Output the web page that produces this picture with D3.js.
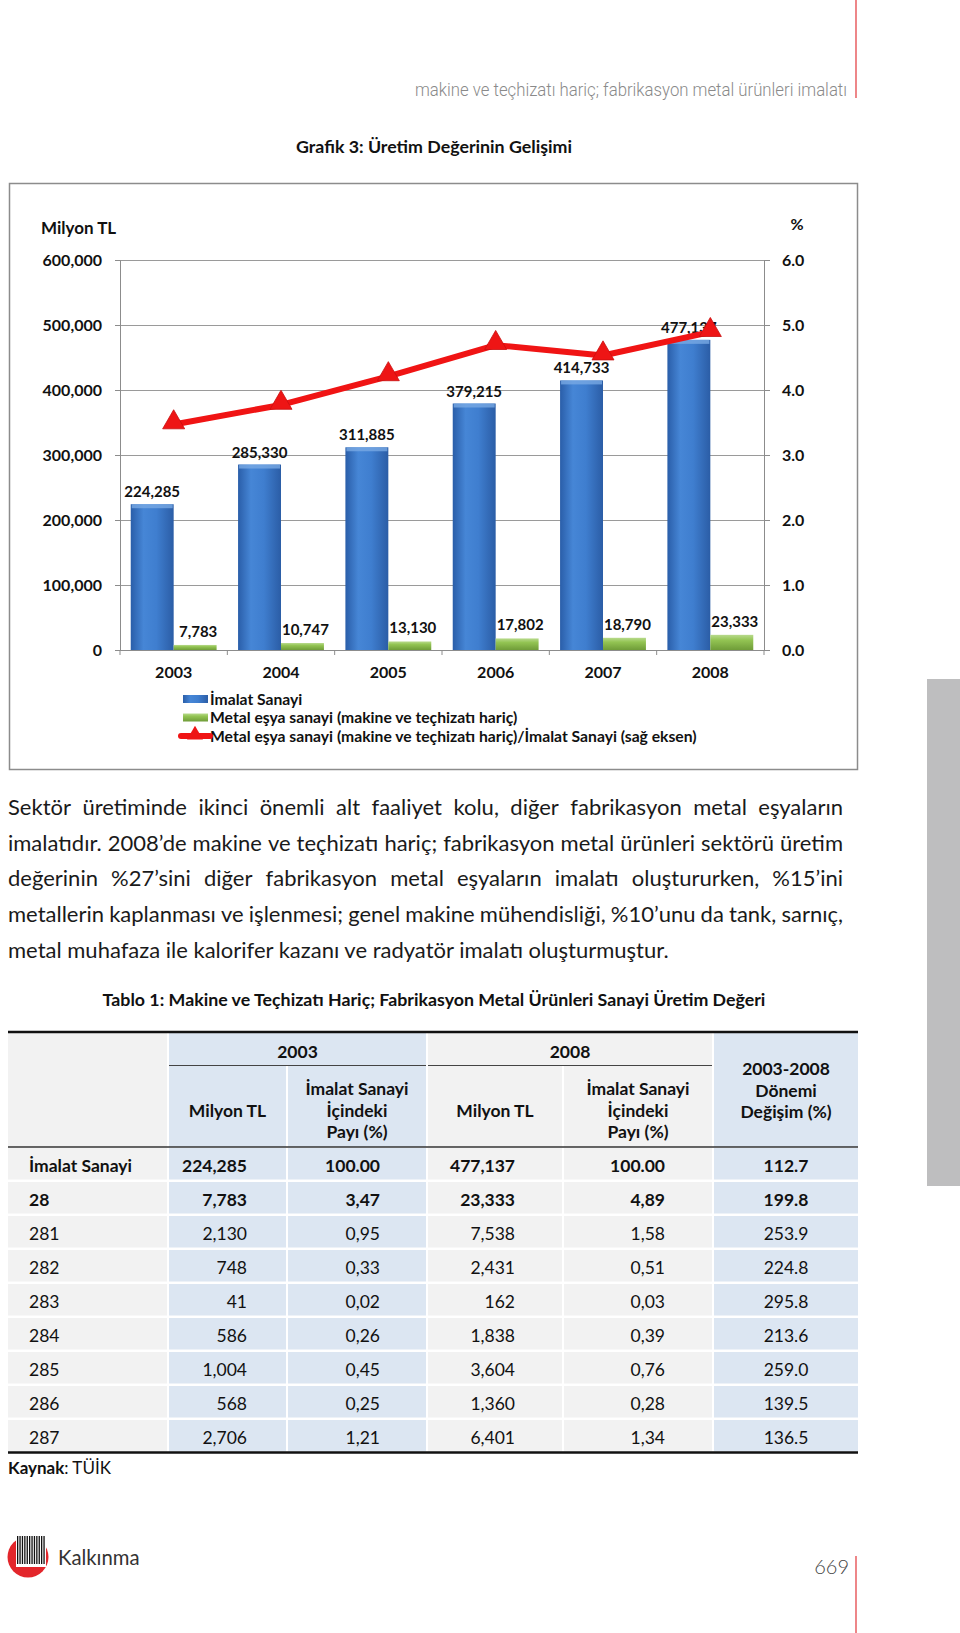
<!DOCTYPE html>
<html>
<head>
<meta charset="utf-8">
<script src="https://cdn.jsdelivr.net/npm/d3@7"></script>
<style>
  body { margin: 0; background: #fff; }
  svg { display: block; }
  text { font-family: Lato, "Open Sans", sans-serif; fill: #111; }
</style>
</head>
<body>
<svg id="page" width="960" height="1633"></svg>
<script>
// chart data
const years = ["2003", "2004", "2005", "2006", "2007", "2008"];
const imalat = [224285, 285330, 311885, 379215, 414733, 477137];
const metal = [7783, 10747, 13130, 17802, 18790, 23333];
const share = [3.47, 3.77, 4.21, 4.69, 4.53, 4.89];
const leftTicks = [0, 100000, 200000, 300000, 400000, 500000, 600000];
const rightTicks = [0, 1, 2, 3, 4, 5, 6];
const seriesNames = [
    "İmalat Sanayi",
    "Metal eşya sanayi (makine ve teçhizatı hariç)",
    "Metal eşya sanayi (makine ve teçhizatı hariç)/İmalat Sanayi (sağ eksen)"
];

// table data
const rowNames = ["İmalat Sanayi", "28", "281", "282", "283", "284", "285", "286", "287"];
const mil2003 = [224285, 7783, 2130, 748, 41, 586, 1004, 568, 2706];
const pay2003 = ["100.00", "3,47", "0,95", "0,33", "0,02", "0,26", "0,45", "0,25", "1,21"];
const mil2008 = [477137, 23333, 7538, 2431, 162, 1838, 3604, 1360, 6401];
const pay2008 = ["100.00", "4,89", "1,58", "0,51", "0,03", "0,39", "0,76", "0,28", "1,34"];
const change = ["112.7", "199.8", "253.9", "224.8", "295.8", "213.6", "259.0", "139.5", "136.5"];

const bodyLines = [
    "Sektör üretiminde ikinci önemli alt faaliyet kolu, diğer fabrikasyon metal eşyaların",
    "imalatıdır. 2008’de makine ve teçhizatı hariç; fabrikasyon metal ürünleri sektörü üretim",
    "değerinin %27’sini diğer fabrikasyon metal eşyaların imalatı oluştururken, %15’ini",
    "metallerin kaplanması ve işlenmesi; genel makine mühendisliği, %10’unu da tank, sarnıç,",
    "metal muhafaza ile kalorifer kazanı ve radyatör imalatı oluşturmuştur."
];

const svg = d3.select("#page");
const defs = svg.append("defs");

// ---- page decorations
svg.append("line").attr("x1", 856).attr("x2", 856).attr("y1", 0).attr("y2", 98)
    .attr("stroke", "#e2363a").attr("stroke-width", 1.2);
svg.append("text")
    .attr("x", 847).attr("y", 96)
    .attr("text-anchor", "end")
    .attr("textLength", 432).attr("lengthAdjust", "spacingAndGlyphs")
    .style("font-family", "Roboto, sans-serif").style("font-weight", 300)
    .style("font-size", "18px").style("fill", "#8a8a8a")
    .text("makine ve teçhizatı hariç; fabrikasyon metal ürünleri imalatı");

svg.append("text")
    .attr("x", 434).attr("y", 153)
    .attr("text-anchor", "middle")
    .style("font-weight", 700).style("font-size", "17.8px")
    .text("Grafik 3: Üretim Değerinin Gelişimi");

svg.append("rect").attr("x", 927).attr("y", 679).attr("width", 33).attr("height", 507)
    .attr("fill", "#bebebf");

// ---- chart
svg.append("rect").attr("x", 9.5).attr("y", 183.5).attr("width", 848).attr("height", 586)
    .attr("fill", "#fff").attr("stroke", "#8c8c8c").attr("stroke-width", 1.5);

const plot = {left: 120, right: 764, top: 260, bottom: 650};

const x = d3.scaleBand().domain(years).range([plot.left, plot.right])
    .paddingInner(0.2).paddingOuter(0.1);
const xs = d3.scaleBand().domain(["imalat", "metal"]).range([0, x.bandwidth()]);
const yL = d3.scaleLinear().domain([0, 600000]).range([plot.bottom, plot.top]);
const yR = d3.scaleLinear().domain([0, 6]).range([plot.bottom, plot.top]);

const blueGrad = defs.append("linearGradient").attr("id", "blueGrad")
    .attr("x1", 0).attr("x2", 1).attr("y1", 0).attr("y2", 0);
blueGrad.selectAll("stop")
    .data([[0, "#2a5ea9"], [0.3, "#4686d6"], [0.6, "#3f7ecf"], [1, "#2b5da6"]])
    .join("stop").attr("offset", d => d[0]).attr("stop-color", d => d[1]);

const greenGrad = defs.append("linearGradient").attr("id", "greenGrad")
    .attr("x1", 0).attr("x2", 0).attr("y1", 0).attr("y2", 1);
greenGrad.selectAll("stop")
    .data([[0, "#b8da8c"], [0.35, "#93c453"], [1, "#6f9c38"]])
    .join("stop").attr("offset", d => d[0]).attr("stop-color", d => d[1]);

// grid
svg.append("g")
    .attr("transform", `translate(${plot.left},0)`)
    .call(d3.axisLeft(yL).tickValues(leftTicks).tickSize(-(plot.right - plot.left)).tickFormat(""))
    .call(g => g.select(".domain").remove())
    .call(g => g.selectAll("line").attr("stroke", "#9a9a9a"));

const styleTicks = g => g.selectAll("text").style("font-family", "Lato, sans-serif")
    .style("font-weight", 700).style("font-size", "16px").attr("fill", "#111");

// left axis
svg.append("g")
    .attr("transform", `translate(${plot.left},0)`)
    .call(d3.axisLeft(yL).tickValues(leftTicks).tickSize(5).tickPadding(13).tickFormat(d3.format(",")))
    .call(g => g.select(".domain").attr("stroke", "#8c8c8c"))
    .call(g => g.selectAll("line").attr("stroke", "#8c8c8c"))
    .call(styleTicks);

// right axis
svg.append("g")
    .attr("transform", `translate(${plot.right},0)`)
    .call(d3.axisRight(yR).tickValues(rightTicks).tickSize(6).tickPadding(12).tickFormat(d3.format(".1f")))
    .call(g => g.select(".domain").attr("stroke", "#8c8c8c"))
    .call(g => g.selectAll("line").attr("stroke", "#8c8c8c"))
    .call(styleTicks);

// bottom axis
svg.append("g")
    .attr("transform", `translate(0,${plot.bottom})`)
    .call(d3.axisBottom(x).tickSize(0).tickPadding(17))
    .call(g => g.select(".domain").attr("stroke", "#8c8c8c"))
    .call(styleTicks);

const bounds = years.map(d => x(d) - x.step() * x.paddingInner() / 2)
    .concat([x(years[years.length - 1]) + x.bandwidth() + x.step() * x.paddingInner() / 2]);
svg.append("g").selectAll("line").data(bounds).join("line")
    .attr("x1", d => d).attr("x2", d => d)
    .attr("y1", plot.bottom).attr("y2", plot.bottom + 5)
    .attr("stroke", "#8c8c8c");

// axis titles
svg.append("text").attr("x", 41).attr("y", 234)
    .style("font-weight", 700).style("font-size", "17px").text("Milyon TL");
svg.append("text").attr("x", 797).attr("y", 230).attr("text-anchor", "middle")
    .style("font-weight", 700).style("font-size", "16px").text("%");

// bars
const bars = svg.append("g");
bars.selectAll(".imalat").data(imalat).join("rect")
    .attr("class", "imalat")
    .attr("x", (d, i) => x(years[i]) + xs("imalat"))
    .attr("y", d => yL(d))
    .attr("width", xs.bandwidth())
    .attr("height", d => yL(0) - yL(d))
    .attr("fill", "url(#blueGrad)");
bars.selectAll(".imalatTop").data(imalat).join("rect")
    .attr("class", "imalatTop")
    .attr("x", (d, i) => x(years[i]) + xs("imalat") + 1)
    .attr("y", d => yL(d))
    .attr("width", xs.bandwidth() - 2)
    .attr("height", 4)
    .attr("fill", "#78a9e4").attr("opacity", 0.8);

bars.selectAll(".metal").data(metal).join("rect")
    .attr("class", "metal")
    .attr("x", (d, i) => x(years[i]) + xs("metal"))
    .attr("y", d => yL(d))
    .attr("width", xs.bandwidth())
    .attr("height", d => yL(0) - yL(d))
    .attr("fill", "url(#greenGrad)");

// bar labels
const labelFmt = d3.format(",");
svg.append("g").selectAll("text").data(imalat).join("text")
    .attr("x", (d, i) => x(years[i]) + xs("imalat") + xs.bandwidth() / 2)
    .attr("y", d => yL(d) - 7)
    .attr("text-anchor", "middle")
    .style("font-weight", 700).style("font-size", "15px")
    .text(d => labelFmt(d));
svg.append("g").selectAll("text").data(metal).join("text")
    .attr("x", (d, i) => x(years[i]) + xs("metal") + xs.bandwidth() / 2 + 3)
    .attr("y", d => yL(d) - 8)
    .attr("text-anchor", "middle")
    .style("font-weight", 700).style("font-size", "15px")
    .text(d => labelFmt(d));

// share line
const lineX = (d, i) => x(years[i]) + x.bandwidth() / 2;
const line = d3.line().x(lineX).y(d => yR(d));
svg.append("path").datum(share)
    .attr("d", line)
    .attr("fill", "none").attr("stroke", "#f01414").attr("stroke-width", 6)
    .attr("stroke-linejoin", "round");
const tri = d3.symbol().type(d3.symbolTriangle).size(210);
svg.append("g").selectAll("path").data(share).join("path")
    .attr("transform", (d, i) => `translate(${lineX(d, i)},${yR(d) - 2})`)
    .attr("d", tri)
    .attr("fill", "#ee1515").attr("stroke", "#c80f0f").attr("stroke-width", 0.8);

// legend
const legend = svg.append("g").attr("transform", "translate(183,699)");
const legRows = legend.selectAll("g").data(seriesNames).join("g")
    .attr("transform", (d, i) => `translate(0,${i * 18.5})`);
legRows.append("text")
    .attr("x", 27).attr("y", 5.5)
    .style("font-weight", 700).style("font-size", "15.7px")
    .text(d => d);
legRows.filter((d, i) => i === 0).append("rect")
    .attr("x", 0).attr("y", -4).attr("width", 25).attr("height", 8).attr("fill", "url(#blueGrad)");
legRows.filter((d, i) => i === 1).append("rect")
    .attr("x", 0).attr("y", -4).attr("width", 25).attr("height", 8).attr("fill", "url(#greenGrad)");
const leg3 = legRows.filter((d, i) => i === 2);
leg3.append("line").attr("x1", -2).attr("x2", 27).attr("y1", 0).attr("y2", 0)
    .attr("stroke", "#f01414").attr("stroke-width", 6).attr("stroke-linecap", "round");
leg3.append("path").attr("transform", "translate(12,-1)")
    .attr("d", d3.symbol().type(d3.symbolTriangle).size(110)).attr("fill", "#ee1515");

// ---- body paragraph (justified)
const bodyLeft = 8, bodyRight = 843;
const body = svg.append("g");
const measure = svg.append("text").style("font-size", "22px").attr("visibility", "hidden");
const wordWidth = w => {
    measure.text(w);
    return measure.node().getComputedTextLength();
};
bodyLines.forEach((ln, li) => {
    const yy = 815 + li * 35.7;
    const words = ln.split(" ");
    const t = body.append("text").attr("y", yy)
        .style("font-size", "22px").style("fill", "#1a1a1a");
    if (li === bodyLines.length - 1) {
        t.attr("x", bodyLeft).text(ln);
        return;
    }
    const widths = words.map(wordWidth);
    const total = d3.sum(widths);
    const gap = (bodyRight - bodyLeft - total) / (words.length - 1);
    if (gap < 3) {
        t.attr("x", bodyLeft).attr("textLength", bodyRight - bodyLeft)
            .attr("lengthAdjust", "spacingAndGlyphs").text(ln);
        return;
    }
    let cx = bodyLeft;
    words.forEach((w, k) => {
        t.append("tspan").attr("x", cx).text(w);
        cx += widths[k] + gap;
    });
});
measure.remove();

// ---- table
svg.append("text").attr("x", 434).attr("y", 1006).attr("text-anchor", "middle")
    .style("font-weight", 700).style("font-size", "17.8px")
    .text("Tablo 1: Makine ve Teçhizatı Hariç; Fabrikasyon Metal Ürünleri Sanayi Üretim Değeri");

const gray = "#f2f2f2", blue = "#dce6f2";
const cols = [
    {x0: 8, x1: 167, fill: gray},
    {x0: 169, x1: 286, fill: blue},
    {x0: 288, x1: 426, fill: blue},
    {x0: 428, x1: 562, fill: gray},
    {x0: 564, x1: 712, fill: gray},
    {x0: 714, x1: 858, fill: blue}
];
const headTop = 1033, headBottom = 1147, rowH = 34;
const table = svg.append("g");

// header backgrounds
table.append("rect").attr("x", cols[0].x0).attr("y", headTop).attr("width", cols[0].x1 - cols[0].x0)
    .attr("height", headBottom - headTop).attr("fill", gray);
table.append("rect").attr("x", cols[1].x0).attr("y", headTop).attr("width", cols[2].x1 - cols[1].x0)
    .attr("height", 32).attr("fill", blue);
table.append("rect").attr("x", cols[3].x0).attr("y", headTop).attr("width", cols[4].x1 - cols[3].x0)
    .attr("height", 32).attr("fill", gray);
[1, 2, 3, 4].forEach(c => {
    table.append("rect").attr("x", cols[c].x0).attr("y", 1066).attr("width", cols[c].x1 - cols[c].x0)
        .attr("height", headBottom - 1066).attr("fill", cols[c].fill);
});
table.append("rect").attr("x", cols[5].x0).attr("y", headTop).attr("width", cols[5].x1 - cols[5].x0)
    .attr("height", headBottom - headTop).attr("fill", blue);

table.append("line").attr("x1", cols[1].x0).attr("x2", cols[2].x1).attr("y1", 1065.5).attr("y2", 1065.5)
    .attr("stroke", "#444").attr("stroke-width", 1);
table.append("line").attr("x1", cols[3].x0).attr("x2", cols[4].x1).attr("y1", 1065.5).attr("y2", 1065.5)
    .attr("stroke", "#444").attr("stroke-width", 1);

const headText = (cx, cy, lines, step) => {
    lines.forEach((s, k) => {
        table.append("text")
            .attr("x", cx).attr("y", cy + (k - (lines.length - 1) / 2) * step + 6.5)
            .attr("text-anchor", "middle")
            .style("font-weight", 700).style("font-size", "17.5px")
            .text(s);
    });
};
const mid = c => (cols[c].x0 + cols[c].x1) / 2;
headText((cols[1].x0 + cols[2].x1) / 2, 1051, ["2003"], 0);
headText((cols[3].x0 + cols[4].x1) / 2, 1051, ["2008"], 0);
headText(mid(1), 1110, ["Milyon TL"], 0);
headText(mid(3), 1110, ["Milyon TL"], 0);
headText(mid(2), 1110, ["İmalat Sanayi", "İçindeki", "Payı (%)"], 21.5);
headText(mid(4), 1110, ["İmalat Sanayi", "İçindeki", "Payı (%)"], 21.5);
headText(mid(5), 1090, ["2003-2008", "Dönemi", "Değişim (%)"], 21.5);

// body rows
const numFmt = d3.format(",");
const rowData = rowNames.map((name, i) => ({
    cells: [name, numFmt(mil2003[i]), pay2003[i], numFmt(mil2008[i]), pay2008[i], change[i]],
    bold: i < 2
}));
const rowG = table.selectAll(".row").data(rowData).join("g")
    .attr("class", "row")
    .attr("transform", (d, i) => `translate(0,${headBottom + 1 + i * rowH})`);
cols.forEach((c, ci) => {
    rowG.append("rect").attr("x", c.x0).attr("y", 0).attr("width", c.x1 - c.x0)
        .attr("height", rowH - 2.5).attr("fill", c.fill);
});
const cellPos = [
    {x: 29, anchor: "start"},
    {x: 247, anchor: "end"},
    {x: 380, anchor: "end"},
    {x: 515, anchor: "end"},
    {x: 665, anchor: "end"},
    {x: mid(5), anchor: "middle"}
];
cellPos.forEach((p, ci) => {
    rowG.append("text")
        .attr("x", p.x).attr("y", 23.5)
        .attr("text-anchor", p.anchor)
        .style("font-weight", d => d.bold ? 700 : 400)
        .style("font-size", "17.5px")
        .text(d => d.cells[ci]);
});

const tableBottom = headBottom + 1 + rowNames.length * rowH - 1.5;
table.append("line").attr("x1", 8).attr("x2", 858).attr("y1", 1032).attr("y2", 1032)
    .attr("stroke", "#111").attr("stroke-width", 2.5);
table.append("line").attr("x1", 8).attr("x2", 858).attr("y1", headBottom).attr("y2", headBottom)
    .attr("stroke", "#333").attr("stroke-width", 1.5);
table.append("line").attr("x1", 8).attr("x2", 858).attr("y1", tableBottom).attr("y2", tableBottom)
    .attr("stroke", "#111").attr("stroke-width", 2.5);

const src = svg.append("text").attr("x", 8).attr("y", 1474).style("font-size", "17px");
src.append("tspan").style("font-weight", 700).text("Kaynak");
src.append("tspan").text(": TÜİK");

// ---- footer
const logo = svg.append("g");
logo.append("circle").attr("cx", 28).attr("cy", 1557).attr("r", 20.5).attr("fill", "#e3262b");
logo.append("rect").attr("x", 16).attr("y", 1536).attr("width", 30).attr("height", 31).attr("fill", "#fff");
logo.selectAll(".bar").data(d3.range(12)).join("rect")
    .attr("x", d => 17 + d * 2.4).attr("y", 1536).attr("width", 1.3).attr("height", 28)
    .attr("fill", "#111");
svg.append("text").attr("x", 58).attr("y", 1565)
    .style("font-size", "20.3px").style("fill", "#333").text("Kalkınma");
svg.append("text").attr("x", 849).attr("y", 1574).attr("text-anchor", "end")
    .style("font-size", "20px").style("font-weight", 300).style("fill", "#444").text("669");
svg.append("line").attr("x1", 856).attr("x2", 856).attr("y1", 1556).attr("y2", 1633)
    .attr("stroke", "#e2363a").attr("stroke-width", 1.2);
</script>
</body>
</html>
